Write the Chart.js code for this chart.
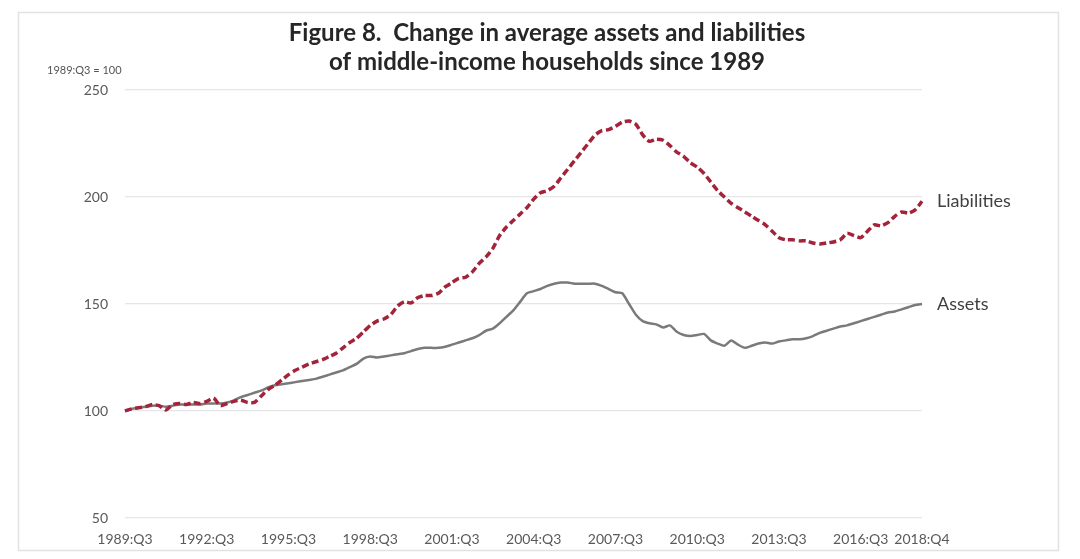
<!DOCTYPE html>
<html>
<head>
<meta charset="utf-8">
<script src="https://cdn.jsdelivr.net/npm/chart.js@4/dist/chart.umd.min.js"></script>
<style>
html,body{margin:0;padding:0;background:#fff;}
#wrap{width:1080px;height:559px;position:relative;}
</style>
</head>
<body>
<div id="wrap"><canvas id="c"></canvas></div>
<script>
/* data */

const startYear = 1989, startQ = 3, nQuarters = 118;

const tickLabels = ["1989:Q3","1992:Q3","1995:Q3","1998:Q3","2001:Q3","2004:Q3",
"2007:Q3","2010:Q3","2013:Q3","2016:Q3","2018:Q4"];

const liabilities = [
100,101,101.5,102,103,102.5,100.5,103,103.5,103,
104,103.5,104.5,106,102.5,103.5,104.5,105,104,104,
107,110,112,114.5,117,119,120.5,122,123,124,
125.5,127,129.5,132,134,137,140,142,143,145,
149,151,150.5,153,154,154,155,158,160,162,
162.5,165,169,172,176,182,186,189,192,195,
199,202,203,205,209,213,217,221,225,229,
231,231.5,233,235,235.5,234,229,226,227,226.5,
224,221,219,216,214,211,207,203,200,197,
195,193,191,189,187,184,181,180,180,179.5,
179.5,178.5,178,178.5,179,180,183,182,181,184,
187,186.5,188,191,193,192.5,194,198];

const assets = [
100,101,101.5,102,102.5,102.5,102,102.5,103,103,
103,103,103.5,103.5,103.5,104,105,106.5,107.5,108.5,
109.5,111,112,112.5,113,113.5,114,114.5,115,116,
117,118,119,120.5,122,124.5,125.5,125,125.5,126,
126.5,127,128,129,129.5,129.5,129.5,130,131,132,
133,134,135.5,137.5,138.5,141,144,147,151,155,
156,157,158.5,159.5,160,160,159.5,159.5,159.5,159.5,
158.5,157,155.5,155,150,145,142,141,140.5,139,
140,137,135.5,135,135.5,136,133,131.5,130.5,133,
131,129.5,130.5,131.5,132,131.5,132.5,133,133.5,133.5,
134,135,136.5,137.5,138.5,139.5,140,141,142,143,
144,145,146,146.5,147.5,148.5,149.5,150];

const categories = [];
for(let i=0;i<nQuarters;i++){
const q = startQ-1+i;
categories.push((startYear+Math.floor(q/4))+":Q"+(q%4+1));
}

const yTicks = [50,100,150,200,250];
const titleLines = ["Figure 8.  Change in average assets and liabilities",
"of middle-income households since 1989"];

/* tekst i ramka */

const extras = {
id:"extras",
beforeDraw(chart){
const c = chart.ctx;
c.save();
c.fillStyle="#fff";
c.fillRect(0,0,chart.width,chart.height);
c.strokeStyle="#e2e2e2";
c.lineWidth=1.5;
c.strokeRect(18.5,12.5,1040,538);
c.restore();
},
afterDatasetsDraw(chart){
const c = chart.ctx;
c.save();
c.fillStyle="#262626";
c.textAlign="center";
c.textBaseline="middle";
c.font="bold 24px Lato";
c.fillText(titleLines[0],547,33);
c.fillText(titleLines[1],547,62);

c.fillStyle="#555";
c.font="11px Lato";
c.textAlign="left";
c.fillText("1989:Q3 = 100",47,70);

c.fillStyle="#404040";
c.font="18px Lato";
chart.data.datasets.forEach((ds,k)=>{
const meta = chart.getDatasetMeta(k);
const p = meta.data[meta.data.length-1];
c.fillText(ds.label,p.x+15,p.y);
});
c.restore();
}
};

new Chart(document.getElementById("c"),{
type:"line",
data:{
labels:categories,
datasets:[{
label:"Liabilities",
data:liabilities,
borderColor:"#a3233a",
borderWidth:3.5,
borderDash:[7,3.5],
pointRadius:0,
tension:0.2
},{
label:"Assets",
data:assets,
borderColor:"#7a7a7a",
borderWidth:2.5,
pointRadius:0,
tension:0.2
}]
},
options:{
responsive:true,
maintainAspectRatio:false,
animation:false,
layout:{padding:{left:20,right:158,top:90,bottom:11}},
plugins:{legend:{display:false},tooltip:{enabled:false}},
scales:{
x:{
grid:{display:false},
border:{display:false},
ticks:{
autoSkip:false,
maxRotation:0,
padding:5,
color:"#595959",
font:{family:"Lato",size:14},
callback:function(v,i){
const l = this.getLabelForValue(v);
return tickLabels.includes(l) ? l : null;
}
},
afterFit(s){s.height=30;}
},
y:{
min:50,max:250,
grid:{color:"#e6e6e6",lineWidth:1.2,drawTicks:false},
border:{display:false},
afterBuildTicks(s){s.ticks=yTicks.map(v=>({value:v}));},
ticks:{
padding:17,
color:"#595959",
font:{family:"Lato",size:14}
},
afterFit(s){s.width=105;}
}
}
},
plugins:[extras]
});
</script>
</body>
</html>
